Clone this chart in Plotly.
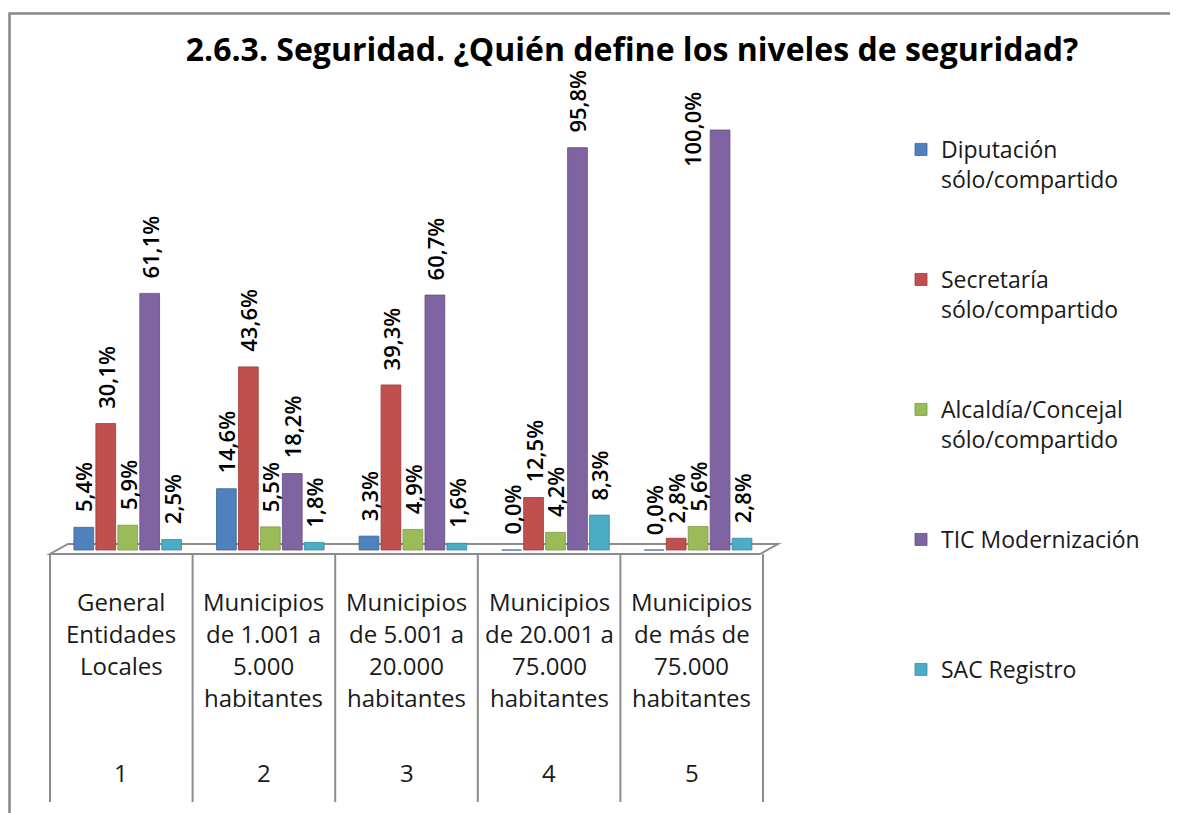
import plotly.graph_objects as go

# ---------------- data ----------------
categories = [
    "General<br>Entidades<br>Locales",
    "Municipios<br>de 1.001 a<br>5.000<br>habitantes",
    "Municipios<br>de 5.001 a<br>20.000<br>habitantes",
    "Municipios<br>de 20.001 a<br>75.000<br>habitantes",
    "Municipios<br>de más de<br>75.000<br>habitantes",
]
category_numbers = ["1", "2", "3", "4", "5"]

series_names = [
    "Diputación<br>sólo/compartido",
    "Secretaría<br>sólo/compartido",
    "Alcaldía/Concejal<br>sólo/compartido",
    "TIC Modernización",
    "SAC Registro",
]
diputacion = [5.4, 14.6, 3.3, 0.0, 0.0]
secretaria = [30.1, 43.6, 39.3, 12.5, 2.8]
alcaldia = [5.9, 5.5, 4.9, 4.2, 5.6]
tic = [61.1, 18.2, 60.7, 95.8, 100.0]
sac = [2.5, 1.8, 1.6, 8.3, 2.8]
series_values = [diputacion, secretaria, alcaldia, tic, sac]

title_text = "2.6.3. Seguridad. ¿Quién define los niveles de seguridad?"

# ---------------- style ----------------
colors = ["#4F81BD", "#C0504D", "#9BBB59", "#8064A2", "#4BACC6"]
edge_colors = ["#3A6699", "#9C3B38", "#7C9A42", "#634C83", "#358BA3"]
FONT = "'Open Sans', Lato, sans-serif"
GRID = "#8C8C8C"
LABEL_FONT = dict(family=FONT, size=22, color="#000000", weight=600)

BODY = 8                      # default page margin around the plot div
W, H = 1178 - BODY, 813 - BODY
# plot-area edges in page pixels
PX_L, PX_R, PX_T, PX_B = 50, 780, 88, 556
CELL = (763 - 50) / 5.0
SHIFT = 0.045
X0 = -0.5 - SHIFT
X1 = X0 + (PX_R - PX_L) / CELL
Y_PER = 4.2
Y0 = -(PX_B - 550) / Y_PER
Y1 = (550 - PX_T) / Y_PER
BARGAP = 0.23
SLOT = (1 - BARGAP) / len(series_names)
LABEL_GAP = 13                 # px between bar top and its label
SIDE_LABEL_MIN = 99.0          # labels of bars this tall are placed beside the bar
SIDE_OFFSET = 28 / CELL        # shift of such labels to the left, in category units


def pxx(x):
    return (x - PX_L) / (PX_R - PX_L)


def pxy(y):
    return (PX_B - y) / (PX_B - PX_T)


def fmt(v):
    return f"{v:.1f}".replace(".", ",") + "%"


annotations = []
fig = go.Figure()
xs = list(range(len(categories)))
n = len(series_names)
for k, (name, vals) in enumerate(zip(series_names, series_values)):
    fig.add_trace(go.Bar(
        x=xs, y=vals, name=name,
        marker=dict(color=colors[k], line=dict(color=edge_colors[k], width=0.8)),
        cliponaxis=False,
        legend="legend" if k == 0 else f"legend{k+1}",
    ))
    for i, v in enumerate(vals):
        xc = xs[i] + (k - (n - 1) / 2) * SLOT
        if v >= SIDE_LABEL_MIN:
            annotations.append(dict(x=xc - SIDE_OFFSET, xref="x", y=v, yref="y",
                                    text=fmt(v), textangle=-90, showarrow=False,
                                    xanchor="center", yanchor="middle", font=LABEL_FONT))
        else:
            annotations.append(dict(x=xc, xref="x", y=v, yref="y", yshift=LABEL_GAP,
                                    text=fmt(v), textangle=-90, showarrow=False,
                                    xanchor="center", yanchor="bottom", font=LABEL_FONT))

shapes = []
# outer chart border (left/top visible)
shapes.append(dict(type="rect", xref="paper", yref="paper",
                   x0=pxx(9.5), x1=pxx(1300), y0=pxy(900), y1=pxy(13.5),
                   line=dict(color="#888888", width=2.5), fillcolor="rgba(0,0,0,0)"))
# floor
shapes.append(dict(type="path", xref="paper", yref="paper",
                   path=f"M {pxx(50)},{pxy(554)} L {pxx(760)},{pxy(554)} L {pxx(778)},{pxy(544)} L {pxx(68)},{pxy(544)} Z",
                   line=dict(color=GRID, width=2), fillcolor="rgba(0,0,0,0)", layer="below"))
# table vertical lines
for k in range(len(categories) + 1):
    xp = 50 + k * CELL
    shapes.append(dict(type="line", xref="paper", yref="paper",
                       x0=pxx(xp), x1=pxx(xp), y0=pxy(554), y1=pxy(802),
                       line=dict(color=GRID, width=2)))

LINE_Y0, LINE_DY, NUM_Y = 601, 32.3, 772
for i, (cat, num) in enumerate(zip(categories, category_numbers)):
    for j, line in enumerate(cat.split("<br>")):
        annotations.append(dict(x=i - SHIFT, xref="x", y=pxy(LINE_Y0 + j * LINE_DY), yref="paper",
                                text=line, showarrow=False, xanchor="center", yanchor="middle",
                                font=dict(family=FONT, size=24, color="#1A1A1A")))
    annotations.append(dict(x=i - SHIFT, xref="x", y=pxy(NUM_Y), yref="paper",
                            text=num, showarrow=False, xanchor="center", yanchor="middle",
                            font=dict(family=FONT, size=24, color="#1A1A1A")))

legend_tops = [128, 258, 388, 518, 648]
legend_common = dict(xref="paper", yref="paper", xanchor="left", yanchor="top",
                     bgcolor="rgba(0,0,0,0)", valign="top",
                     font=dict(family=FONT, size=23, color="#1A1A1A"))
layout_legends = {}
for k, top in enumerate(legend_tops):
    key = "legend" if k == 0 else f"legend{k+1}"
    layout_legends[key] = dict(x=pxx(901), y=pxy(top), **legend_common)

fig.update_layout(
    width=W, height=H,
    margin=dict(l=PX_L - BODY, r=W - (PX_R - BODY), t=PX_T - BODY, b=H - (PX_B - BODY), pad=0),
    paper_bgcolor="white", plot_bgcolor="rgba(0,0,0,0)",
    barmode="group", bargap=BARGAP, bargroupgap=0.1,
    title=dict(text=f"<b>{title_text}</b>", x=(632 - BODY) / W, xref="container", xanchor="center",
               y=1 - (50 - BODY) / H, yref="container", yanchor="middle",
               font=dict(family=FONT, size=32, color="#000000")),
    xaxis=dict(range=[X0, X1], showticklabels=False, showgrid=False, zeroline=False,
               showline=False, ticks="", fixedrange=True),
    yaxis=dict(range=[Y0, Y1], visible=False, showgrid=False, zeroline=False),
    shapes=shapes, annotations=annotations,
    showlegend=True,
    **layout_legends,
)

fig.write_html("out.html")
